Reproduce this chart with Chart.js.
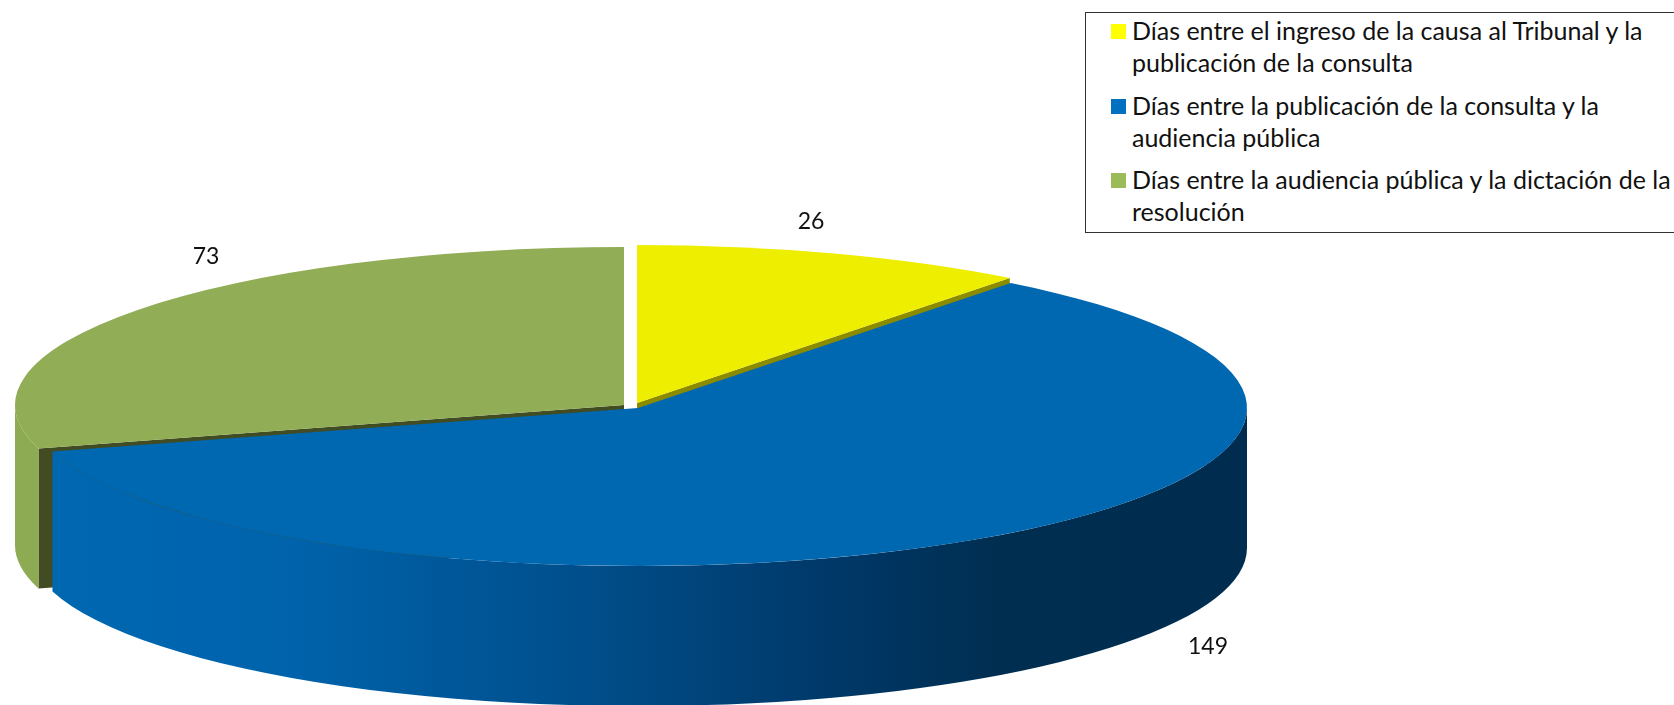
<!DOCTYPE html>
<html lang="es">
<head>
<meta charset="utf-8">
<script src="https://cdn.jsdelivr.net/npm/chart.js@4"></script>
<style>
  html, body { margin: 0; padding: 0; background: #fff; overflow: hidden; }
  #wrap { position: relative; width: 1674px; height: 705px; overflow: hidden; }
  #pie { position: absolute; left: 0; top: 0; }
  #legend {
    position: absolute; left: 1085px; top: 12px; width: 600px; height: 221px;
    box-sizing: border-box; border: 1px solid #333; background: #fff;
    font: 25px Lato, sans-serif; line-height: 32px; color: #111;
  }
  .item { position: absolute; left: 46px; width: 548px; }
  .swatch { position: absolute; left: -21px; top: 10px; width: 15px; height: 15px; }
</style>
</head>
<body>
<div id="wrap">
  <canvas id="pie" width="1674" height="705"></canvas>
  <div id="legend"></div>
</div>
<script>
const categories = [
  'Días entre el ingreso de la causa al Tribunal y la publicación de la consulta',
  'Días entre la publicación de la consulta y la audiencia pública',
  'Días entre la audiencia pública y la dictación de la resolución',
];
const days = [26, 149, 73];
const topColors = ['#eeee00', '#0067b1', '#91ad55'];
const legendColors = ['#ffff00', '#0070c0', '#9bbb59'];

// squash + extrusion for the fake 3d look
const SQUASH = 158 / 609;
const DEPTH = 140;
// how far each slice is pulled out of the pie, in pixels
const sliceShift = [[0, -5], [1, 0], [-13, -3]];
const labelSpots = [[811, 222], [1208, 647], [206, 257]];

const legendEl = document.getElementById('legend');
categories.forEach((name, i) => {
  const item = document.createElement('div');
  item.className = 'item';
  item.style.top = (1 + i * 74.5) + 'px';
  item.textContent = name;
  const swatch = document.createElement('span');
  swatch.className = 'swatch';
  swatch.style.background = legendColors[i];
  item.appendChild(swatch);
  legendEl.appendChild(item);
});

function outerWall(ctx, x, y, r, from, to, fill) {
  ctx.beginPath();
  ctx.ellipse(x, y, r, r * SQUASH, 0, from, to);
  ctx.ellipse(x, y + DEPTH, r, r * SQUASH, 0, to, from, true);
  ctx.closePath();
  ctx.fillStyle = fill;
  ctx.fill();
}

function radialWall(ctx, x, y, r, angle, fill) {
  const ex = x + Math.cos(angle) * r;
  const ey = y + Math.sin(angle) * r * SQUASH;
  ctx.beginPath();
  ctx.moveTo(x, y);
  ctx.lineTo(ex, ey);
  ctx.lineTo(ex, ey + DEPTH);
  ctx.lineTo(x, y + DEPTH);
  ctx.closePath();
  ctx.fillStyle = fill;
  ctx.fill();
}

const pie3d = {
  id: 'pie3d',
  beforeDatasetDraw(chart, args) {
    const { ctx } = chart;
    const arcs = args.meta.data;
    const [yellow, blue, green] = arcs;
    const r = blue.outerRadius;

    // yellow and green cut faces first, the blue top covers most of them
    radialWall(ctx, yellow.x + sliceShift[0][0], yellow.y + sliceShift[0][1], r, yellow.endAngle, '#8b8b00');
    radialWall(ctx, green.x + sliceShift[2][0], green.y + sliceShift[2][1], r, green.startAngle, '#414c22');

    // rim of the green slice, only the part facing the viewer
    outerWall(ctx, green.x + sliceShift[2][0], green.y + sliceShift[2][1], r, green.startAngle, Math.PI, '#8cab52');

    // rim of the blue slice
    const blueX = blue.x + sliceShift[1][0];
    const grad = ctx.createLinearGradient(blueX - r, 0, blueX + r, 0);
    grad.addColorStop(0, '#0067b1');
    grad.addColorStop(0.2, '#0064ad');
    grad.addColorStop(0.45, '#004f8c');
    grad.addColorStop(0.65, '#00396a');
    grad.addColorStop(0.8, '#002e50');
    grad.addColorStop(1, '#002d4f');
    outerWall(ctx, blueX, blue.y, r, 0, blue.endAngle, grad);

    // top faces, drawn by the arc elements themselves
    arcs.forEach((arc, i) => {
      ctx.save();
      ctx.translate(arc.x + sliceShift[i][0], arc.y + sliceShift[i][1]);
      ctx.scale(1, SQUASH);
      ctx.translate(-arc.x, -arc.y);
      arc.draw(ctx);
      ctx.restore();
    });
    return false;
  },
  afterDatasetsDraw(chart) {
    const { ctx } = chart;
    ctx.save();
    ctx.font = '23px Lato, sans-serif';
    ctx.fillStyle = '#111';
    ctx.textAlign = 'center';
    ctx.textBaseline = 'middle';
    chart.data.datasets[0].data.forEach((v, i) => {
      ctx.fillText(String(v), labelSpots[i][0], labelSpots[i][1]);
    });
    ctx.restore();
  },
};

new Chart(document.getElementById('pie'), {
  type: 'pie',
  data: {
    labels: categories,
    datasets: [{
      data: days,
      backgroundColor: topColors,
      borderWidth: 0,
      hoverOffset: 0,
    }],
  },
  options: {
    responsive: false,
    animation: false,
    radius: 609,
    layout: { padding: { right: 400, top: 111 } },
    plugins: {
      legend: { display: false },
      tooltip: { enabled: false },
    },
  },
  plugins: [pie3d],
});
</script>
</body>
</html>
